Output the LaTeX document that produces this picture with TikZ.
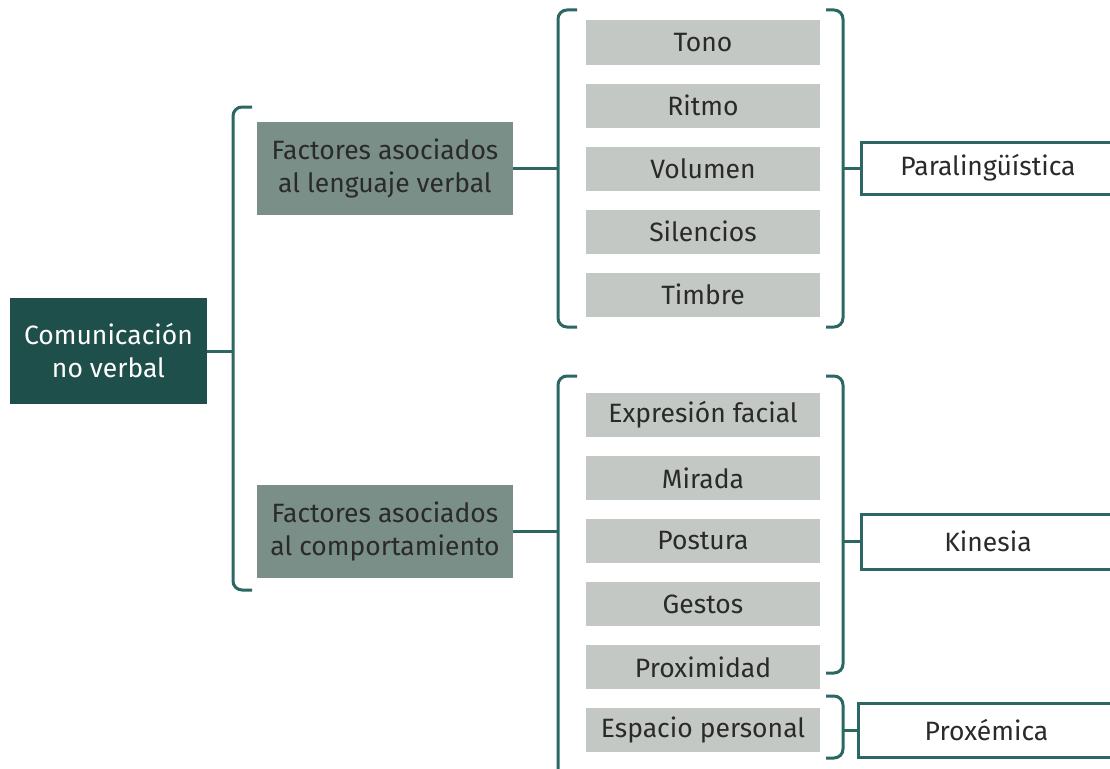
\documentclass[tikz,border=0pt]{standalone}
\usepackage{fontspec}
\setmainfont{Fira Sans}
\definecolor{darkteal}{HTML}{1F4F4B}
\definecolor{linecol}{HTML}{2D6763}
\definecolor{midgreen}{HTML}{7B8F89}
\definecolor{lightgray}{HTML}{C3C8C4}
\definecolor{txt}{HTML}{2A2A2A}
\begin{document}
\begin{tikzpicture}[x=1pt,y=-1pt,
  every node/.style={inner sep=0pt, outer sep=0pt, align=center},
  basefont/.style={font=\fontsize{26.5}{33}\selectfont},
  mainbox/.style={basefont, rectangle, fill=darkteal, text=white, minimum width=197pt, minimum height=106pt},
  factbox/.style={basefont, rectangle, fill=midgreen, text=txt, minimum width=256pt, minimum height=93pt},
  itembox/.style={basefont, rectangle, fill=lightgray, text=txt, minimum width=234pt, minimum height=44pt},
  catbox/.style={basefont, rectangle, draw=linecol, line width=3pt, fill=white, text=txt, minimum width=254pt},
  link/.style={draw=linecol, line width=3pt},
  brace/.style={draw=linecol, line width=3pt, rounded corners=9pt}]
\useasboundingbox (0,0) rectangle (1110,768);

% main
\node[mainbox] (main) at (108.5,351) {Comunicación\\no verbal};
\node[factbox] (f1) at (385,168.5) {Factores asociados\\al lenguaje verbal};
\node[factbox] (f2) at (385,531) {Factores asociados\\al comportamiento};

% items group 1
\node[itembox] (tono) at (703,42.5) {Tono};
\node[itembox] (ritmo) at (703,105.5) {Ritmo};
\node[itembox] (vol) at (703,168.5) {Volumen};
\node[itembox] (sil) at (703,231.5) {Silencios};
\node[itembox] (timb) at (703,294.5) {Timbre};

% items group 2
\node[itembox] (expr) at (703,415) {Expresión facial};
\node[itembox] (mir) at (703,478) {Mirada};
\node[itembox] (post) at (703,541) {Postura};
\node[itembox] (gest) at (703,604) {Gestos};
\node[itembox] (prox) at (703,667) {Proximidad};
\node[itembox] (esp) at (703,730) {Espacio personal};

% categories
\node[catbox, minimum height=52pt] (para) at (988,168) {Paralingüística};
\node[catbox, minimum height=55pt] (kin) at (988,541.5) {Kinesia};
\node[catbox, minimum height=54pt, minimum width=257pt] (proxe) at (986.5,730) {Proxémica};

% brace coordinates
\coordinate (bL) at (233,351);
\coordinate (g1L) at (558,168.5);
\coordinate (g2L) at (558,531);
\coordinate (g1R) at (843,168);
\coordinate (g2R) at (843,541.5);
\coordinate (g3R) at (843,730);

% big left brace
\draw[brace] (252,107) -- (233,107) -- (233,590) -- (252,590);
% group 1 braces
\draw[brace] (577,10) -- (558,10) -- (558,327) -- (577,327);
\draw[brace] (826,10) -- (843,10) -- (843,327) -- (826,327);
% group 2 braces
\draw[brace] (577,376) -- (558,376) -- (558,790);
\draw[brace] (826,376) -- (843,376) -- (843,673) -- (826,673);
\draw[brace] (826,696) -- (843,696) -- (843,758) -- (826,758);

% connectors
\draw[link] (main.east) -- (bL);
\draw[link] (f1.east) -- (g1L);
\draw[link] (f2.east) -- (g2L);
\draw[link] (g1R) -- (para.west);
\draw[link] (g2R) -- (kin.west);
\draw[link] (g3R) -- (proxe.west);
\end{tikzpicture}
\end{document}
